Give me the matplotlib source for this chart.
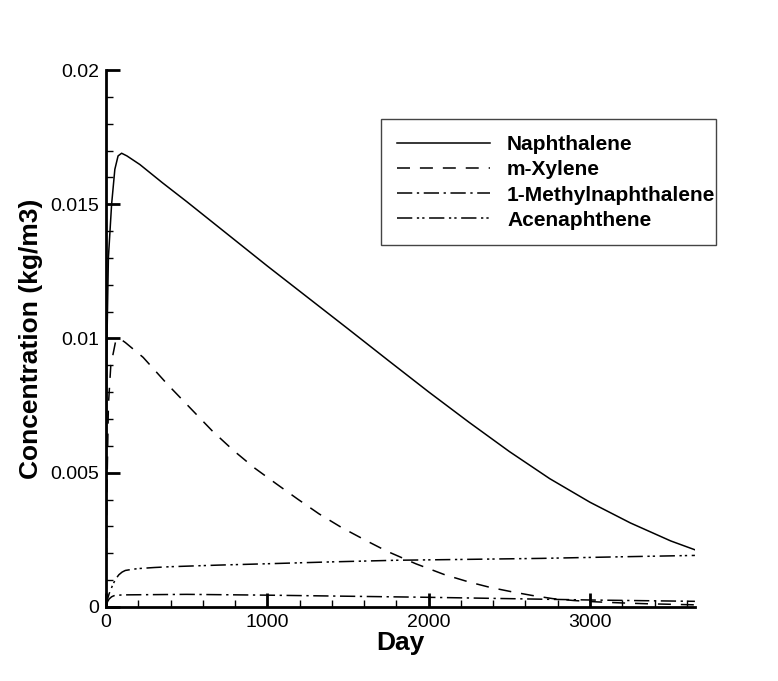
import numpy as np
import matplotlib
matplotlib.use("Agg")
import matplotlib.pyplot as plt
from matplotlib.ticker import MultipleLocator

plt.rcParams['font.family'] = ['Liberation Sans', 'DejaVu Sans']

# values (day, kg/m3)
naph_day = [0, 5, 15, 35, 55, 75, 97, 130, 210, 350, 500, 750, 1000, 1250, 1500,
            1750, 2000, 2250, 2500, 2750, 3000, 3250, 3500, 3650]
naph_conc = [0.0, 0.0095, 0.0130, 0.0150, 0.0163, 0.0168, 0.0169, 0.0168, 0.01648,
             0.0158, 0.0151, 0.0139, 0.0127, 0.01153, 0.01036, 0.00918, 0.00801,
             0.00688, 0.00579, 0.00478, 0.00390, 0.00313, 0.00246, 0.00213]

xyl_day = [0, 5, 15, 30, 60, 85, 120, 230, 380, 540, 660, 790, 920, 1055, 1190, 1320,
           1460, 1610, 1740, 1920, 2100, 2250, 2380, 2520, 2640, 2770, 2900, 3040,
           3200, 3350, 3500, 3650]
xyl_conc = [0.0, 0.0040, 0.0075, 0.0090, 0.0099, 0.0100, 0.00985, 0.0093, 0.0083,
            0.0073, 0.00655, 0.00583, 0.00518, 0.00459, 0.00401, 0.00347, 0.00296,
            0.00248, 0.00208, 0.00161, 0.00120, 0.00093, 0.00073, 0.00056, 0.00043,
            0.00031, 0.00024, 0.00019, 0.00015, 0.00012, 0.00010, 0.00008]

mnap_day = [0, 10, 20, 35, 50, 100, 300, 500, 1000, 1500, 2000, 2500, 3000, 3650]
mnap_conc = [0.0, 0.00020, 0.00030, 0.00038, 0.00042, 0.00045, 0.00046, 0.00047,
             0.00044, 0.00040, 0.00036, 0.00031, 0.00026, 0.00021]

acen_day = [0, 10, 20, 45, 65, 80, 100, 120, 160, 200, 300, 400, 700, 1000, 1400,
            1800, 2200, 2700, 3200, 3650]
acen_conc = [0.0, 0.00030, 0.00050, 0.00087, 0.00108, 0.00120, 0.00130, 0.00136,
             0.00140, 0.00143, 0.00147, 0.00150, 0.00156, 0.00161, 0.00168, 0.00174,
             0.00177, 0.00181, 0.00187, 0.00192]

x_ticks = [0, 1000, 2000, 3000]
y_ticks = [0, 0.005, 0.01, 0.015, 0.02]
y_tick_labels = ['0', '0.005', '0.01', '0.015', '0.02']

fig = plt.figure(figsize=(7.78, 6.81), dpi=100)
ax = fig.add_axes([0.1362, 0.1087, 0.757, 0.7885])

ax.plot(naph_day, naph_conc, color='black', lw=1.1, ls='-', label='Naphthalene')
ax.plot(xyl_day, xyl_conc, color='black', lw=1.1, ls=(0, (8.5, 6.5)), label='m-Xylene')
ax.plot(mnap_day, mnap_conc, color='black', lw=1.1, ls=(0, (10, 3, 1.5, 3)),
        label='1-Methylnaphthalene')
ax.plot(acen_day, acen_conc, color='black', lw=1.1, ls=(0, (10, 3, 1.5, 2, 1.5, 3)),
        label='Acenaphthene')

ax.set_xlim(0, 3650)
ax.set_ylim(0, 0.02)
ax.set_xticks(x_ticks)
ax.set_xticklabels([str(t) for t in x_ticks])
ax.set_yticks(y_ticks)
ax.set_yticklabels(y_tick_labels)
ax.xaxis.set_minor_locator(MultipleLocator(200))
ax.yaxis.set_minor_locator(MultipleLocator(0.001))

ax.spines['top'].set_visible(False)
ax.spines['right'].set_visible(False)
ax.spines['left'].set_linewidth(2)
ax.spines['bottom'].set_linewidth(2)
ax.tick_params(which='major', direction='in', length=10, width=2, labelsize=14, pad=5)
ax.tick_params(which='minor', direction='in', length=5, width=1)

ax.set_xlabel('Day', fontsize=19, fontweight='bold', labelpad=0)
ax.set_ylabel('Concentration (kg/m3)', fontsize=19, fontweight='bold', labelpad=5)

leg = ax.legend(loc='upper left', bbox_to_anchor=(0.467, 0.678, 0.569, 0.23),
                mode='expand', prop={'weight': 'bold', 'size': 15},
                handlelength=4.5, handletextpad=0.8, labelspacing=0.3,
                borderpad=0.75, borderaxespad=0, fancybox=False, framealpha=1)
leg.get_frame().set_edgecolor('#444444')
leg.get_frame().set_linewidth(1)

fig.savefig('out.png', dpi=100)
